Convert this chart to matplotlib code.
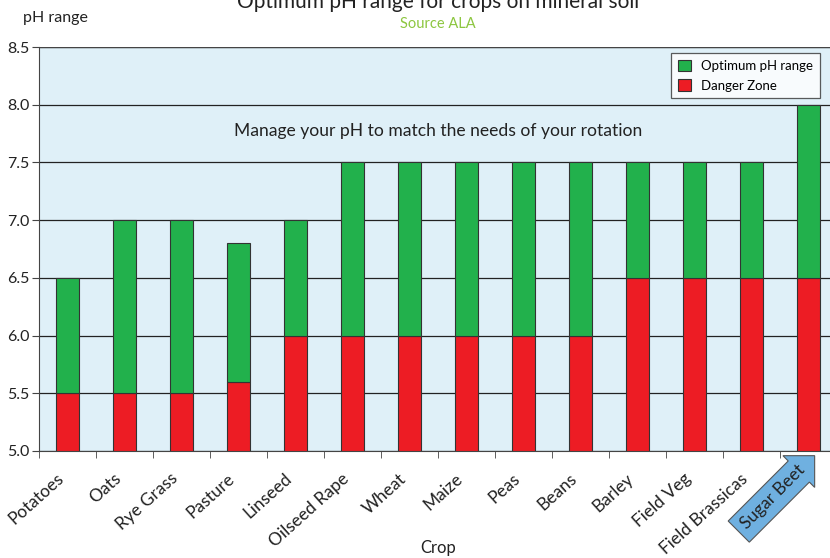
import matplotlib
matplotlib.use("Agg")
import matplotlib.pyplot as plt
import numpy as np

plt.rcParams['font.family'] = ['Lato', 'DejaVu Sans']

crops = ["Potatoes", "Oats", "Rye Grass", "Pasture", "Linseed", "Oilseed Rape", "Wheat",
         "Maize", "Peas", "Beans", "Barley", "Field Veg", "Field Brassicas", "Sugar Beet"]
danger_top = [5.5, 5.5, 5.5, 5.6, 6.0, 6.0, 6.0, 6.0, 6.0, 6.0, 6.5, 6.5, 6.5, 6.5]
optimum_top = [6.5, 7.0, 7.0, 6.8, 7.0, 7.5, 7.5, 7.5, 7.5, 7.5, 7.5, 7.5, 7.5, 8.0]
y_ticks = [5.0, 5.5, 6.0, 6.5, 7.0, 7.5, 8.0, 8.5]
base = 5.0

W, H = 830, 558
fig = plt.figure(figsize=(W / 100, H / 100), dpi=100)
ax = fig.add_axes([39 / W, 1 - 451 / H, (837 - 39) / W, (451 - 47) / H])
ax.set_facecolor("#dff0f8")

x = np.arange(len(crops))
bw = 0.42
red = np.array(danger_top) - base
green = np.array(optimum_top) - np.array(danger_top)
ax.bar(x, red, bottom=base, width=bw, color="#ed1c24", edgecolor="#333333", linewidth=0.8,
       label="Danger Zone", zorder=3)
ax.bar(x, green, bottom=danger_top, width=bw, color="#22b14c", edgecolor="#333333", linewidth=0.8,
       label="Optimum pH range", zorder=3)

ax.set_xlim(-0.5, len(crops) - 0.5)
ax.set_ylim(5.0, 8.5)
ax.set_yticks(y_ticks)
ax.set_yticklabels([f"{v:.1f}" for v in y_ticks], fontsize=11.5, color="#222222")
ax.grid(axis="y", color="#222222", linewidth=0.9, zorder=1)

ax.set_xticks(x - 0.2)
ax.set_xticks(np.arange(len(crops) + 1) - 0.5, minor=True)
ax.tick_params(axis="x", which="major", length=0, pad=14)
ax.tick_params(axis="x", which="minor", length=5, color="#444444")
ax.tick_params(axis="y", length=5, color="#444444", pad=2)
labels = ax.set_xticklabels(crops, rotation=42, ha="right", rotation_mode="anchor",
                            fontsize=12.5, color="#222222")
labels[-1].set_visible(False)

for s in ["top", "right"]:
    ax.spines[s].set_visible(False)
ax.spines["left"].set_color("#444444")
ax.spines["bottom"].set_color("#444444")
ax.axhline(8.5, color="#444444", linewidth=0.9, zorder=2)

# Sugar Beet arrow label
ax.text(len(crops) - 1.62, 4.60, crops[-1], rotation=45, ha="center", va="center",
        fontsize=12.5, color="#222222", rotation_mode="anchor",
        bbox=dict(boxstyle="rarrow,pad=0.4", fc="#6fb0e0", ec="#555555", lw=0.8),
        clip_on=False, zorder=5)

ax.text(6.5, 7.77, "Manage your pH to match the needs of your rotation", ha="center",
        va="center", fontsize=12.6, color="#222222")

handles, labs = ax.get_legend_handles_labels()
leg = fig.legend(handles[::-1], labs[::-1], loc="upper right",
                 bbox_to_anchor=(820 / W, 1 - 53 / H), borderaxespad=0, fontsize=9.5,
                 frameon=True, fancybox=False, edgecolor="#333333", handlelength=1.0,
                 handleheight=1.0, borderpad=0.5, labelspacing=0.55, handletextpad=0.8)
leg.get_frame().set_linewidth(0.9)

fig.text(438 / W, 1 - 2 / H, "Optimum pH range for crops on mineral soil", ha="center",
         va="center", fontsize=15, color="#222222")
fig.text(438 / W, 1 - 24 / H, "Source ALA", ha="center", va="center", fontsize=10.5,
         color="#8cc63f")
fig.text(55 / W, 1 - 18 / H, "pH range", ha="center", va="center", fontsize=11.5,
         color="#222222")
fig.text(438 / W, 1 - 548 / H, "Crop", ha="center", va="center", fontsize=12,
         color="#222222")

fig.savefig("out.png", dpi=100)
